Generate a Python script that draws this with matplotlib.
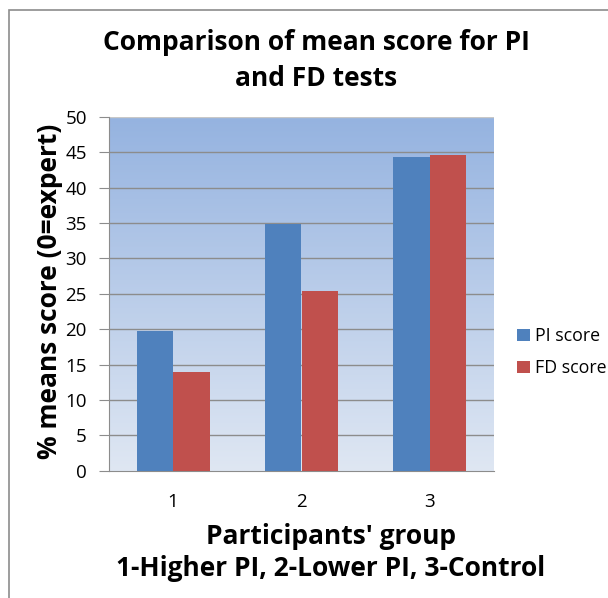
import numpy as np
import matplotlib as mpl
mpl.use('Agg')
import matplotlib.pyplot as plt
from matplotlib.colors import LinearSegmentedColormap
from matplotlib.patches import Rectangle

groups = ['1', '2', '3']
pi_score = [19.7, 34.9, 44.3]
fd_score = [13.9, 25.4, 44.6]
y_ticks = [0, 5, 10, 15, 20, 25, 30, 35, 40, 45, 50]

plt.rcParams['font.family'] = ['Open Sans', 'DejaVu Sans']

W, H = 608, 598
fig = plt.figure(figsize=(W/100, H/100), dpi=100)
ax = fig.add_axes([109/W, 1 - 470.6/H, 385/W, 353.6/H])

# outer chart border (runs off the right/bottom of the picture)
fig.patches.append(Rectangle((9/W, -0.1), 1.2, 1 - 10/H + 0.1,
                             transform=fig.transFigure, fill=False,
                             edgecolor='#8c8c8c', linewidth=1.2))

# gradient plot area
cmap = LinearSegmentedColormap.from_list('bg', ['#dfe7f3', '#95b3e0'])
grad = np.linspace(0, 1, 256).reshape(-1, 1)
ax.imshow(grad, cmap=cmap, origin='lower', aspect='auto',
          extent=[0.5, 3.5, 0, 50], zorder=0)

x = np.arange(1, len(groups) + 1)
w = 1 / 3.5
ax.bar(x - w/2, pi_score, w, color='#4f81bd', label='PI score', zorder=3)
ax.bar(x + w/2, fd_score, w, color='#c0504d', label='FD score', zorder=3)

ax.set_xlim(0.5, 3.5)
ax.set_ylim(0, 50)
ax.set_yticks(y_ticks)
ax.set_xticks(x)
ax.set_xticklabels(groups)
for t in y_ticks[1:]:
    ax.axhline(t, color='#8c8c8c' if t < 50 else '#c8c8c8', linewidth=1, zorder=1)

for s in ['top', 'right']:
    ax.spines[s].set_visible(False)
for s in ['left', 'bottom']:
    ax.spines[s].set_color('#8c8c8c')
ax.tick_params(axis='y', length=7, color='#8c8c8c', labelsize=13.5, pad=9)
ax.tick_params(axis='x', length=0, labelsize=13.5, pad=16)

fig.text(316/W, 1 - 60.5/H, 'Comparison of mean score for PI\nand FD tests',
         ha='center', va='center', fontsize=19, fontweight='bold', linespacing=1.4)
fig.text(50/W, 1 - 291/H, '% means score (0=expert)', rotation=90,
         ha='center', va='center', fontsize=19, fontweight='bold')
fig.text(331/W, 1 - 552.5/H, "Participants' group\n1-Higher PI, 2-Lower PI, 3-Control",
         ha='center', va='center', fontsize=19, fontweight='bold', linespacing=1.2)

ax.legend(loc='center left', bbox_to_anchor=(1.06, 0.335), frameon=False,
          fontsize=12.8, handlelength=0.7, handleheight=0.7, handletextpad=0.3,
          labelspacing=0.8, borderaxespad=0, borderpad=0)

fig.savefig('out.png', dpi=100)
